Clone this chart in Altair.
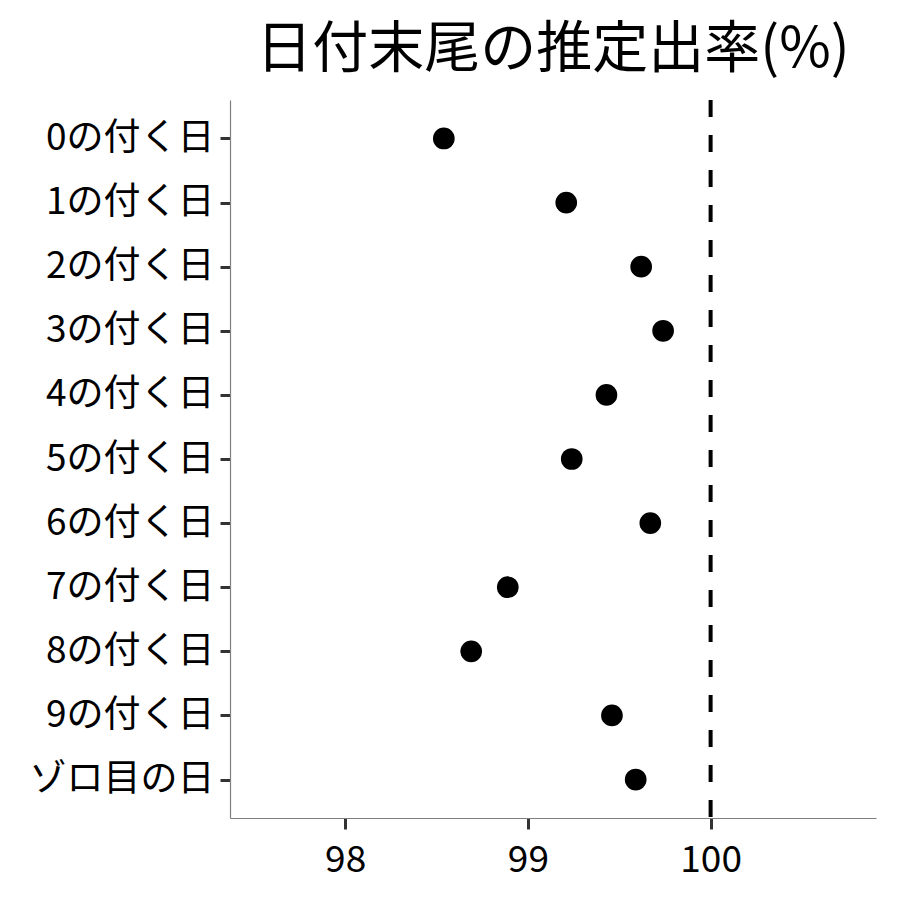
import altair as alt
import pandas as pd

categories = ["0の付く日", "1の付く日", "2の付く日", "3の付く日", "4の付く日",
              "5の付く日", "6の付く日", "7の付く日", "8の付く日", "9の付く日", "ゾロ目の日"]
rates = [98.54, 99.21, 99.62, 99.74, 99.43, 99.24, 99.67, 98.89, 98.69, 99.46, 99.59]
ref_value = [100]
x_ticks = [98, 99, 100]
title_text = "日付末尾の推定出率(%)"

FONT = "Noto Sans CJK JP"

df = pd.DataFrame({"day": categories, "rate": rates})
ref_df = pd.DataFrame({"ref": ref_value})

x_scale = alt.Scale(domain=[97.37, 100.905], nice=False, zero=False)

points = alt.Chart(df).mark_circle(size=470, color="black", opacity=1).encode(
    x=alt.X("rate:Q", scale=x_scale,
            axis=alt.Axis(values=x_ticks, title=None, grid=False, tickSize=11,
                          labelPadding=13, format="d")),
    y=alt.Y("day:N", sort=categories,
            scale=alt.Scale(type="point", padding=0.6),
            axis=alt.Axis(title=None, grid=False, tickSize=10, labelPadding=6,
                          labelLimit=0, minExtent=217, maxExtent=217)),
)

rule = alt.Chart(ref_df).mark_rule(color="black", strokeWidth=4,
                                   strokeDash=[17, 18]).encode(
    x=alt.X("ref:Q", scale=x_scale)
)

chart = (
    alt.layer(points, rule)
    .properties(
        width=646, height=718,
        title=alt.TitleParams(title_text, font=FONT, fontSize=56, fontWeight="normal",
                              color="black", anchor="middle", offset=19),
        padding={"top": 14, "left": 5, "right": 5, "bottom": 5},
        background="white",
    )
    .configure_axis(
        domainColor="#7f7f7f", domainWidth=1.2,
        tickColor="#333333", tickWidth=3,
        labelFont=FONT, labelFontSize=37, labelColor="black",
    )
    .configure_view(stroke=None)
)

chart.save("out.html", embed_options={"renderer": "svg", "actions": False})
